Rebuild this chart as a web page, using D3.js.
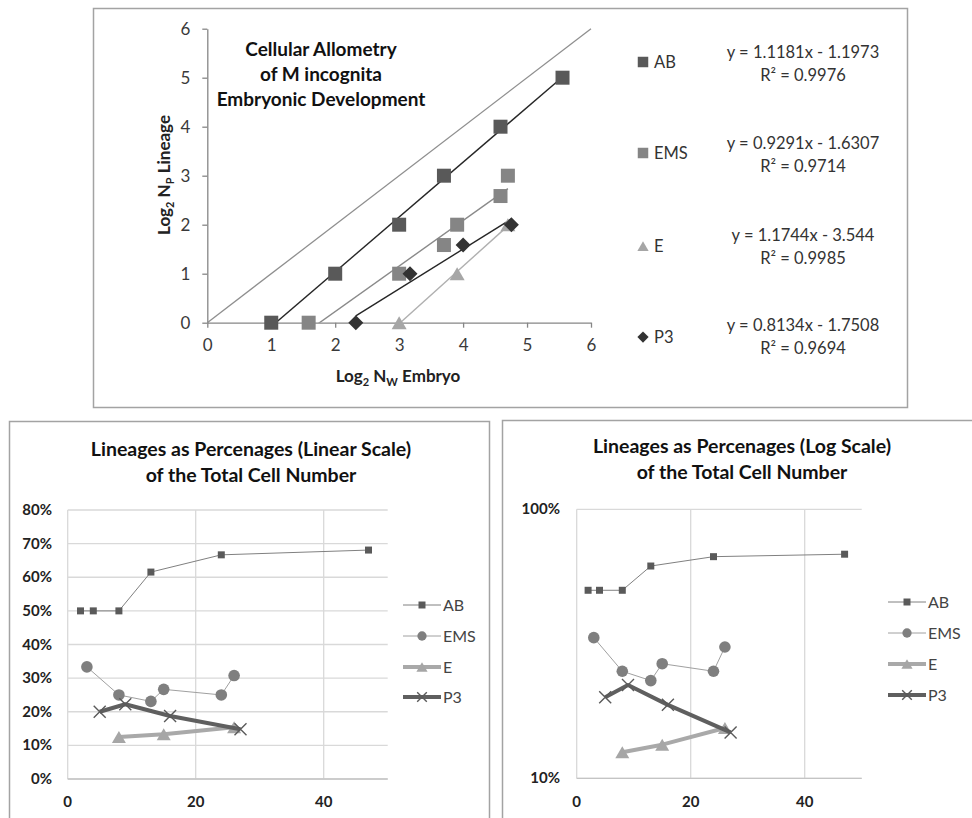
<!DOCTYPE html>
<html>
<head>
<meta charset="utf-8">
<script src="https://cdn.jsdelivr.net/npm/d3@7"></script>
<style>
  body { margin: 0; background: #fff; }
  svg { display: block; font-family: Lato, "Open Sans", sans-serif; }
</style>
</head>
<body>
<svg id="chart" width="972" height="818"></svg>
<script>
// Lineages and their embryo sizes (total cells) with lineage cell counts
const lineages = ["AB", "EMS", "E", "P3"];
const abTotal = [2, 4, 8, 13, 24, 47];
const abCells = [1, 2, 4, 8, 16, 32];
const emsTotal = [3, 8, 13, 15, 24, 26];
const emsCells = [1, 2, 3, 4, 6, 8];
const eTotal = [8, 15, 26];
const eCells = [1, 2, 4];
const p3Total = [5, 9, 16, 27];
const p3Cells = [1, 2, 3, 4];

// Linear fits of log2(lineage) against log2(embryo)
const fitSlopes = [1.1181, 0.9291, 1.1744, 0.8134];
const fitIntercepts = [-1.1973, -1.6307, -3.544, -1.7508];
const fitR2 = ["0.9976", "0.9714", "0.9985", "0.9694"];

// Axis ticks
const allometryTicks = [0, 1, 2, 3, 4, 5, 6];
const linearPctTicks = [0, 0.1, 0.2, 0.3, 0.4, 0.5, 0.6, 0.7, 0.8];
const logPctTicks = [0.1, 1];
const cellTicks = [0, 20, 40];

const titleAllometry = ["Cellular Allometry", "of M incognita", "Embryonic Development"];
const titleLinear = ["Lineages as Percenages (Linear Scale)", "of the Total Cell Number"];
const titleLog = ["Lineages as Percenages (Log Scale)", "of the Total Cell Number"];

const totals = [abTotal, emsTotal, eTotal, p3Total];
const cells = [abCells, emsCells, eCells, p3Cells];
const series = lineages.map((name, i) => ({
  name,
  points: totals[i].map((t, j) => ({ total: t, count: cells[i][j] })),
  slope: fitSlopes[i],
  intercept: fitIntercepts[i],
  r2: fitR2[i]
}));

const svg = d3.select("#chart");
const borderColor = "#a3a3a3";

// ---------- marker shapes ----------
function squarePath(s) { const h = s / 2; return `M${-h},${-h}H${h}V${h}H${-h}Z`; }
function diamondPath(s) { const h = s / 2; return `M0,${-h}L${h},0L0,${h}L${-h},0Z`; }
function trianglePath(w, hgt) { return `M0,${-hgt / 2}L${w / 2},${hgt / 2}L${-w / 2},${hgt / 2}Z`; }
function crossPath(s) { const h = s / 2; return `M${-h},${-h}L${h},${h}M${-h},${h}L${h},${-h}`; }

// ---------- frames ----------
svg.append("rect").attr("x", 93.5).attr("y", 8.5).attr("width", 814).attr("height", 399)
  .attr("fill", "none").attr("stroke", borderColor).attr("stroke-width", 1.5);
svg.append("rect").attr("x", 9.5).attr("y", 421.5).attr("width", 480).attr("height", 420)
  .attr("fill", "none").attr("stroke", borderColor).attr("stroke-width", 1.5);
svg.append("rect").attr("x", 502.5).attr("y", 420.5).attr("width", 500).attr("height", 420)
  .attr("fill", "none").attr("stroke", borderColor).attr("stroke-width", 1.5);

// ================= Allometry scatter (log2 / log2) =================
{
  const x = d3.scaleLinear().domain([0, 6]).range([207.3, 591]);
  const y = d3.scaleLinear().domain([0, 6]).range([322.7, 28.7]);
  const g = svg.append("g");
  const axisColor = "#868686";

  const ax = g.append("g").attr("transform", `translate(0,${y(0)})`)
    .call(d3.axisBottom(x).tickValues(allometryTicks).tickFormat(d3.format("d"))
      .tickSize(5).tickSizeOuter(0).tickPadding(11));
  const ay = g.append("g").attr("transform", `translate(${x(0)},0)`)
    .call(d3.axisLeft(y).tickValues(allometryTicks).tickFormat(d3.format("d"))
      .tickSize(5).tickSizeOuter(0).tickPadding(12));
  [ax, ay].forEach(a => {
    a.select(".domain").attr("stroke", axisColor).attr("stroke-width", 1.3);
    a.selectAll(".tick line").attr("stroke", axisColor).attr("stroke-width", 1.3);
    a.selectAll(".tick text").attr("fill", "#3a3a3a").style("font-size", "17px").style("font-family", "Lato, sans-serif");
  });

  // identity line y = x
  g.append("line").attr("x1", x(0)).attr("y1", y(0)).attr("x2", x(6)).attr("y2", y(6))
    .attr("stroke", "#8f8f8f").attr("stroke-width", 1.3);

  const styles = {
    AB:  { fill: "#595959", trend: "#262626", shape: () => squarePath(14) },
    EMS: { fill: "#858585", trend: "#8a8a8a", shape: () => squarePath(14) },
    E:   { fill: "#a6a6a6", trend: "#b0b0b0", shape: () => trianglePath(15, 13) },
    P3:  { fill: "#333333", trend: "#262626", shape: () => diamondPath(15) }
  };

  const clipId = "allo-clip";
  g.append("clipPath").attr("id", clipId).append("rect")
    .attr("x", x(0)).attr("y", y(6)).attr("width", x(6) - x(0)).attr("height", y(0) - y(6));

  // fitted trendlines across each lineage's sampled range
  series.forEach(s => {
    const xs = s.points.map(p => Math.log2(p.total));
    const x0 = d3.min(xs), x1 = d3.max(xs);
    const fx = v => s.slope * v + s.intercept;
    g.append("line").attr("clip-path", `url(#${clipId})`)
      .attr("x1", x(x0)).attr("y1", y(fx(x0)))
      .attr("x2", x(x1)).attr("y2", y(fx(x1)))
      .attr("stroke", styles[s.name].trend).attr("stroke-width", 1.4);
  });

  series.forEach(s => {
    g.selectAll(null).data(s.points).join("path")
      .attr("d", styles[s.name].shape())
      .attr("transform", p => `translate(${x(Math.log2(p.total))},${y(Math.log2(p.count))})`)
      .attr("fill", styles[s.name].fill);
  });

  // title
  g.append("text").attr("text-anchor", "middle").attr("font-weight", "bold")
    .attr("font-size", 19).attr("fill", "#111")
    .selectAll("tspan").data(titleAllometry).join("tspan")
    .attr("x", 321).attr("y", (d, i) => 56 + i * 25).text(d => d);

  // axis titles with subscripts
  const xt = g.append("text").attr("x", 398).attr("y", 382).attr("text-anchor", "middle")
    .attr("font-weight", "bold").attr("font-size", 17).attr("fill", "#222");
  xt.append("tspan").text("Log");
  xt.append("tspan").attr("dy", 4).attr("font-size", 11).text("2");
  xt.append("tspan").attr("dy", -4).text(" N");
  xt.append("tspan").attr("dy", 4).attr("font-size", 11).text("W");
  xt.append("tspan").attr("dy", -4).text(" Embryo");

  const yt = g.append("text").attr("transform", "translate(170,175) rotate(-90)")
    .attr("text-anchor", "middle").attr("font-weight", "bold").attr("font-size", 17).attr("fill", "#222");
  yt.append("tspan").text("Log");
  yt.append("tspan").attr("dy", 4).attr("font-size", 11).text("2");
  yt.append("tspan").attr("dy", -4).text(" N");
  yt.append("tspan").attr("dy", 4).attr("font-size", 11).text("P");
  yt.append("tspan").attr("dy", -4).text(" Lineage");

  // legend with fit equations
  const legY = [62, 153, 246, 337];
  const eqY = [52, 143, 235, 325];
  series.forEach((s, i) => {
    g.append("path").attr("d", styles[s.name].shape())
      .attr("transform", `translate(643,${legY[i]}) scale(0.75)`)
      .attr("fill", styles[s.name].fill);
    g.append("text").attr("x", 654).attr("y", legY[i] + 6).attr("font-size", 16.5)
      .attr("fill", "#333").text(s.name);
    const eq = `y = ${s.slope}x - ${Math.abs(s.intercept)}`;
    const t = g.append("text").attr("text-anchor", "middle").attr("font-size", 16.5).attr("fill", "#333");
    t.append("tspan").attr("x", 803).attr("y", eqY[i] + 6).text(eq);
    t.append("tspan").attr("x", 803).attr("y", eqY[i] + 29).text(`R² = ${s.r2}`);
  });
}

// ================= Percentage line charts =================
const lineStyles = {
  AB:  { line: "#808080", width: 1, marker: "#5a5a5a", kind: "square" },
  EMS: { line: "#a0a0a0", width: 1, marker: "#7f7f7f", kind: "circle" },
  E:   { line: "#a9a9a9", width: 4, marker: "#a6a6a6", kind: "triangle" },
  P3:  { line: "#5f5f5f", width: 4, marker: "#5a5a5a", kind: "cross" }
};

function drawMarker(sel, kind, color, scale) {
  const k = scale || 1;
  if (kind === "square") sel.append("path").attr("d", squarePath(7 * k)).attr("fill", color);
  else if (kind === "circle") sel.append("circle").attr("r", 5.8 * k).attr("fill", color);
  else if (kind === "triangle") sel.append("path").attr("d", trianglePath(14 * k, 12 * k)).attr("fill", color);
  else sel.append("path").attr("d", crossPath(12 * k)).attr("fill", "none").attr("stroke", color).attr("stroke-width", 1.4);
}

function pctChart(opts) {
  const { x, y, yTicks, gridY, title, titleX, titleY, labelRight, legendX, legendY } = opts;
  const g = svg.append("g");
  const fmt = d3.format(".0%");

  // gridlines
  g.selectAll(null).data(gridY).join("line")
    .attr("x1", x.range()[0]).attr("x2", x.range()[1])
    .attr("y1", d => y(d)).attr("y2", d => y(d))
    .attr("stroke", "#d9d9d9").attr("stroke-width", 1.3);
  g.selectAll(null).data(cellTicks).join("line")
    .attr("x1", d => x(d)).attr("x2", d => x(d))
    .attr("y1", y.range()[0]).attr("y2", y.range()[1])
    .attr("stroke", "#d9d9d9").attr("stroke-width", 1.3);
  g.append("line").attr("x1", x.range()[0]).attr("x2", x.range()[1])
    .attr("y1", y.range()[0]).attr("y2", y.range()[0])
    .attr("stroke", "#c4c4c4").attr("stroke-width", 1.3);

  // tick labels
  g.selectAll(null).data(yTicks).join("text")
    .attr("x", labelRight).attr("y", d => y(d) + 5).attr("text-anchor", "end")
    .attr("font-weight", "bold").attr("font-size", 15).attr("fill", "#222").text(fmt);
  g.selectAll(null).data(cellTicks).join("text")
    .attr("x", d => x(d)).attr("y", 807).attr("text-anchor", "middle")
    .attr("font-weight", "bold").attr("font-size", 15).attr("fill", "#222").text(d => d);

  // title
  g.append("text").attr("text-anchor", "middle").attr("font-weight", "bold")
    .attr("font-size", 19.5).attr("fill", "#111")
    .selectAll("tspan").data(title).join("tspan")
    .attr("x", titleX).attr("y", (d, i) => titleY + i * 25.5).text(d => d);

  // series
  series.forEach(s => {
    const st = lineStyles[s.name];
    const line = d3.line().x(p => x(p.total)).y(p => y(p.count / p.total));
    g.append("path").datum(s.points).attr("d", line)
      .attr("fill", "none").attr("stroke", st.line).attr("stroke-width", st.width)
      .attr("stroke-linejoin", "round");
    s.points.forEach(p => {
      const m = g.append("g").attr("transform", `translate(${x(p.total)},${y(p.count / p.total)})`);
      drawMarker(m, st.kind, st.marker, 1);
    });
  });

  // legend
  series.forEach((s, i) => {
    const st = lineStyles[s.name];
    const ly = legendY[i];
    g.append("line").attr("x1", legendX).attr("x2", legendX + 38).attr("y1", ly).attr("y2", ly)
      .attr("stroke", st.line).attr("stroke-width", st.width);
    const m = g.append("g").attr("transform", `translate(${legendX + 19},${ly})`);
    drawMarker(m, st.kind, st.marker, st.kind === "square" ? 1 : 0.8);
    g.append("text").attr("x", legendX + 40).attr("y", ly + 5.5).attr("font-size", 16)
      .attr("fill", "#444").text(s.name);
  });
}

pctChart({
  x: d3.scaleLinear().domain([0, 50]).range([67.7, 387.7]),
  y: d3.scaleLinear().domain([0, 0.8]).range([779, 510]),
  yTicks: linearPctTicks,
  gridY: linearPctTicks,
  title: titleLinear, titleX: 251, titleY: 456,
  labelRight: 52,
  legendX: 403, legendY: [605, 636, 667, 697]
});

pctChart({
  x: d3.scaleLinear().domain([0, 50]).range([576.7, 861.7]),
  y: d3.scaleLog().domain([0.1, 1]).range([778.3, 509.3]),
  yTicks: logPctTicks,
  gridY: logPctTicks,
  title: titleLog, titleX: 742, titleY: 453,
  labelRight: 560,
  legendX: 888, legendY: [602, 633, 664, 695]
});
</script>
</body>
</html>
